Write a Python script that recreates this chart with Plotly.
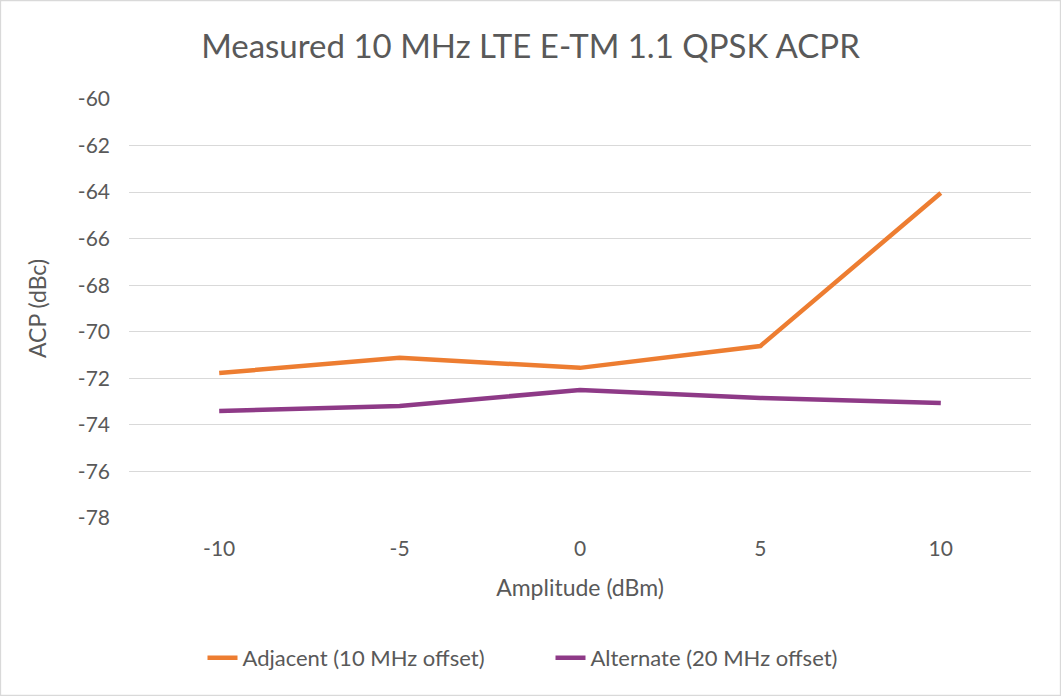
import plotly.graph_objects as go

amplitude = ["-10", "-5", "0", "5", "10"]
adjacent = [-71.77, -71.12, -71.55, -70.61, -64.04]
alternate = [-73.40, -73.19, -72.50, -72.84, -73.06]
y_ticks = [-60, -62, -64, -66, -68, -70, -72, -74, -76, -78]
y_tick_labels = ["-60", "-62", "-64", "-66", "-68", "-70", "-72", "-74", "-76", "-78"]

FONT = "Lato, Open Sans, sans-serif"
GRAY = "#595959"
W, H = 1061, 696
L, R, T, B = 129, 30, 99, 178
PW, PH = W - L - R, H - T - B

fig = go.Figure()
fig.add_trace(go.Scatter(x=amplitude, y=adjacent, mode="lines",
                         name="Adjacent (10 MHz offset)",
                         line=dict(color="#ED7D31", width=4.5)))
fig.add_trace(go.Scatter(x=amplitude, y=alternate, mode="lines",
                         name="Alternate (20 MHz offset)",
                         line=dict(color="#8E3A87", width=4.5)))

fig.update_layout(
    width=W, height=H,
    paper_bgcolor="white", plot_bgcolor="white",
    margin=dict(l=L, r=R, t=T, b=B, autoexpand=False),
    title=dict(text="Measured 10 MHz LTE E-TM 1.1 QPSK ACPR",
               x=0.5, xanchor="center", y=1 - 46 / H, yanchor="middle",
               font=dict(family=FONT, size=33, color=GRAY)),
    font=dict(family=FONT, color=GRAY, size=21),
    showlegend=True,
    legend=dict(orientation="h", x=(550.5 - L) / PW, xanchor="center",
                y=-(658 - 518) / PH, yanchor="middle",
                font=dict(size=22, color=GRAY), bgcolor="rgba(0,0,0,0)",
                entrywidth=303, entrywidthmode="pixels",
                traceorder="normal"),
    xaxis=dict(type="category", range=[-0.5, 4.5], showgrid=False,
               showline=False, zeroline=False, ticks="", ticklabelstandoff=16,
               tickfont=dict(size=21, color=GRAY),
               title=dict(text="Amplitude (dBm)", font=dict(size=23, color=GRAY), standoff=20)),
    yaxis=dict(range=[-78, -60], tickvals=y_ticks, ticktext=y_tick_labels, showgrid=True,
               gridcolor="#D9D9D9", gridwidth=1.3, zeroline=False, showline=False,
               tickfont=dict(size=21, color=GRAY), ticks="", ticklabelstandoff=18,
               title=dict(text="ACP (dBc)", font=dict(size=23, color=GRAY), standoff=24)),
)
fig.add_shape(type="rect", xref="paper", yref="paper",
              x0=-(L - 0.5) / PW, x1=1 + (R - 0.5) / PW, y0=-(B - 0.5) / PH, y1=1 + (T - 0.5) / PH,
              line=dict(color="#D9D9D9", width=1.3), fillcolor="rgba(0,0,0,0)", layer="below")

fig.write_html("out.html", config={"displayModeBar": False},
               post_script="document.body.style.margin='0';")
